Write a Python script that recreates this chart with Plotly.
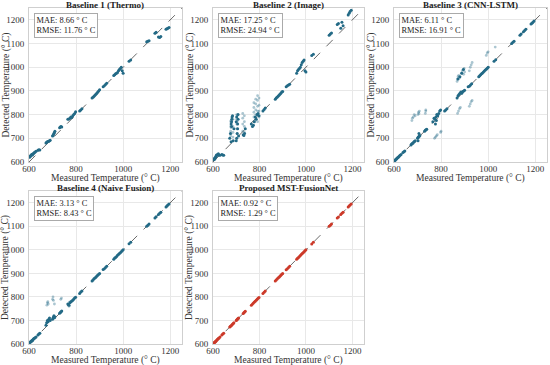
import plotly.graph_objects as go

# ---------------- data ----------------
titles = ["Baseline 1 (Thermo)", "Baseline 2 (Image)", "Baseline 3 (CNN-LSTM)",
          "Baseline 4 (Naive Fusion)", "Proposed MST-FusionNet"]
mae = [8.66, 17.25, 6.11, 3.13, 0.92]
rmse = [11.76, 24.94, 16.91, 8.43, 1.29]
x_title = "Measured Temperature (° C)"
y_title = "Detected Temperature (° C)"

measured = [603, 605, 607, 609, 611, 613, 615, 618, 620, 623, 626, 630,
            638, 642, 646,
            672, 675, 678, 681, 684, 687, 690,
            700, 702, 704, 706, 708, 710,
            730, 733, 736, 739,
            765, 770, 774, 778, 782, 786, 790, 794, 798,
            815, 820, 825,
            868, 872, 876, 880, 884, 888, 892, 896, 900,
            915, 920, 925, 930,
            960, 964, 968, 972, 976, 980, 984, 988, 992, 996, 1000,
            1025, 1032,
            1100, 1105, 1110,
            1135, 1140,
            1150, 1155, 1160,
            1182, 1186, 1190, 1195]

det_thermo = [620, 624, 626, 628, 631, 633, 630, 635, 637, 640, 642, 645,
              650, 652, 651,
              680, 683, 685, 686, 688, 690, 692,
              710, 712, 716, 720, 725, 730,
              745, 748, 750, 748,
              780, 782, 785, 790, 788, 795, 800, 805, 812,
              815, 820, 825,
              870, 873, 878, 882, 886, 890, 895, 900, 905,
              918, 922, 927, 932,
              965, 968, 972, 975, 978, 985, 990, 995, 1000, 985, 975,
              1025, 1030,
              1108, 1110, 1112,
              1143, 1148,
              1128, 1125, 1130,
              1160, 1162, 1165, 1168]

det_image = [610, 614, 612, 618, 620, 625, 630, 628, 632, 635, 630, 628,
             632, 630, 628,
             700, 720, 760, 780, 795, 690, 740,
             690, 700, 720, 760, 800, 710,
             715, 712, 720, 740,
             760, 750, 755, 770, 790, 780, 800, 805, 795,
             815, 822, 828,
             865, 870, 873, 878, 882, 886, 890, 895, 898,
             918, 922, 925, 928,
             975, 985, 990, 995, 1000, 1010, 1020, 1025, 1030, 985, 980,
             1050, 1055,
             1135, 1140, 1145,
             1180, 1185,
             1165, 1190, 1175,
             1220, 1228, 1235, 1240]
image_out_x = [676, 676, 676, 676, 678, 678, 678, 686, 686, 686, 686,
               702, 702, 702, 702, 704, 704, 704,
               728, 728, 728, 728, 735, 735, 735, 735,
               776, 776, 776, 776, 776, 784, 784, 784, 784, 784,
               792, 792, 792, 792, 792, 792, 798, 798, 798, 798]
image_out_y = [710, 730, 750, 770, 720, 745, 775, 705, 725, 750, 780,
               740, 760, 780, 800, 720, 770, 795,
               730, 760, 785, 805, 725, 750, 770, 795,
               770, 790, 810, 830, 850, 780, 800, 820, 845, 865,
               770, 795, 815, 835, 860, 880, 790, 815, 840, 870]
image_dark_x = [678, 680, 680, 682, 700, 702, 706, 708]
image_dark_y = [685, 750, 770, 790, 770, 790, 740, 780]

det_cnn = [605, 608, 610, 612, 614, 616, 618, 620, 622, 625, 628, 632,
           640, 643, 646,
           672, 676, 678, 680, 684, 686, 690,
           700, 703, 705, 708, 710, 712,
           730, 734, 736, 738,
           770, 785, 780, 790, 800, 795, 805, 815, 820,
           815, 820, 825,
           870, 880, 885, 890, 895, 890, 898, 900, 903,
           918, 920, 925, 930,
           960, 964, 968, 972, 976, 980, 984, 988, 992, 996, 1000,
           1025, 1032,
           1100, 1105, 1110,
           1135, 1140,
           1150, 1155, 1160,
           1182, 1186, 1190, 1195]
cnn_out_x = [676, 678, 682, 686, 690, 702, 704, 708, 706, 735, 735, 733,
             772, 776, 780, 784, 798, 800,
             868, 870, 872, 875, 878, 886, 890, 894, 898, 900, 896,
             920, 924, 928, 932, 870, 874, 878, 882, 920, 924, 928, 932,
             992, 996, 1000, 1030]
cnn_out_y = [775, 785, 790, 800, 795, 800, 810, 815, 805, 815, 820, 805,
             700, 705, 710, 715, 725, 730,
             940, 950, 960, 965, 955, 975, 985, 990, 995, 980, 970,
             985, 1000, 1010, 1020, 805, 815, 825, 830, 835, 845, 855, 860,
             1050, 1060, 1065, 1085]
cnn_dark_x = [872, 880, 888, 895, 780, 776, 702, 706]
cnn_dark_y = [950, 960, 975, 990, 775, 760, 690, 720]

det_naive = [606, 607, 610, 612, 612, 616, 615, 620, 622, 624, 627, 630,
             638, 643, 646,
             680, 690, 700, 695, 705, 710, 700,
             705, 710, 715, 720, 712, 715,
             731, 734, 737, 740,
             770, 765, 775, 780, 783, 786, 791, 795, 799,
             815, 821, 825,
             868, 872, 877, 880, 884, 889, 892, 896, 900,
             916, 920, 925, 930,
             960, 965, 968, 972, 977, 980, 985, 988, 992, 996, 1000,
             1026, 1032,
             1100, 1105, 1110,
             1135, 1141,
             1150, 1155, 1160,
             1182, 1186, 1190, 1195]
naive_out_x = [676, 678, 680, 682, 700, 702, 704, 708, 735, 738, 770, 772]
naive_out_y = [765, 775, 780, 770, 790, 800, 785, 770, 790, 795, 760, 778]

det_proposed = [603, 605, 607, 609, 611, 613, 615, 618, 620, 623, 626, 630,
                638, 642, 646,
                672, 675, 678, 681, 684, 687, 690,
                700, 702, 704, 706, 708, 710,
                730, 733, 736, 739,
                765, 770, 774, 778, 782, 786, 790, 794, 798,
                815, 820, 825,
                868, 872, 876, 880, 884, 888, 892, 896, 900,
                915, 920, 925, 930,
                960, 964, 968, 972, 976, 980, 984, 988, 992, 996, 1000,
                1025, 1032,
                1100, 1105, 1110,
                1135, 1140,
                1150, 1155, 1160,
                1182, 1186, 1190, 1195]

lims = [600, 1250]
x_ticks = [600, 800, 1000, 1200]
y_ticks = [600, 700, 800, 900, 1000, 1100, 1200]

# ---------------- styling ----------------
DARK = "#236a86"
LIGHT = "rgba(35,106,134,0.38)"
RED = "#cc3a2a"
FONT = "Liberation Serif"
W, H = 550, 365

col_px = [(29, 182), (213, 364), (394, 547)]
row_px = [(8, 162), (191, 344)]
col_dom = [[a / W, b / W] for a, b in col_px]
row_dom = [[1 - b / H, 1 - a / H] for a, b in row_px]
cells = [(0, 0), (0, 1), (0, 2), (1, 0), (1, 1)]

main_y = [det_thermo, det_image, det_cnn, det_naive, det_proposed]
extra_dark = [([], []), (image_dark_x, image_dark_y), (cnn_dark_x, cnn_dark_y), ([], []), ([], [])]
extra_light = [([], []), (image_out_x, image_out_y), (cnn_out_x, cnn_out_y), (naive_out_x, naive_out_y), ([], [])]

fig = go.Figure()
layout = dict(
    width=W, height=H, margin=dict(l=0, r=0, t=0, b=0, autoexpand=False),
    paper_bgcolor="white", plot_bgcolor="white", showlegend=False,
    font=dict(family=FONT, color="#333333", size=9),
)
annotations = []

for i, (r, c) in enumerate(cells):
    k = "" if i == 0 else str(i + 1)
    xa, ya = "x" + k, "y" + k
    color = RED if i == 4 else DARK
    fig.add_trace(go.Scatter(x=lims, y=lims, mode="lines", xaxis=xa, yaxis=ya,
                             line=dict(color="#444444", width=0.8, dash="dash"),
                             hoverinfo="skip"))
    lx, ly = extra_light[i]
    if lx:
        fig.add_trace(go.Scatter(x=lx, y=ly, mode="markers", xaxis=xa, yaxis=ya,
                                 marker=dict(color=LIGHT, size=2.8)))
    fig.add_trace(go.Scatter(x=measured, y=main_y[i], mode="markers", xaxis=xa, yaxis=ya,
                             marker=dict(color=color, size=3)))
    dx, dy = extra_dark[i]
    if dx:
        fig.add_trace(go.Scatter(x=dx, y=dy, mode="markers", xaxis=xa, yaxis=ya,
                                 marker=dict(color=color, size=3)))

    axis_common = dict(range=lims, showgrid=True, gridcolor="#e8e8e8", gridwidth=1,
                       zeroline=False, showline=True, linecolor="#cfcfcf", linewidth=1,
                       mirror=True, ticks="", ticklen=0, automargin=False,
                       tickfont=dict(family=FONT, size=9, color="#333333"))
    layout["xaxis" + k] = dict(axis_common, domain=col_dom[c], anchor=ya,
                               tickvals=x_ticks, ticklabelstandoff=-2)
    layout["yaxis" + k] = dict(axis_common, domain=row_dom[r], anchor=xa,
                               tickvals=y_ticks, ticklabelstandoff=2)

    x0, x1 = col_px[c]
    y0, y1 = row_px[r]
    annotations.append(dict(text="<b>" + titles[i] + "</b>", xref="paper", yref="paper",
                            x=(x0 + x1) / 2 / W, y=1 - (y0 - 3.5) / H,
                            xanchor="center", yanchor="middle",
                            showarrow=False, font=dict(family=FONT, size=9, color="#222222")))
    annotations.append(dict(text=x_title, xref="paper", yref="paper",
                            x=(x0 + x1) / 2 / W, y=1 - (y1 + 16) / H,
                            xanchor="center", yanchor="middle", showarrow=False,
                            font=dict(family=FONT, size=9.5, color="#333333")))
    annotations.append(dict(text=y_title, xref="paper", yref="paper",
                            x=(x0 - 23.5) / W, y=1 - (y0 + y1) / 2 / H, textangle=-90,
                            xanchor="center", yanchor="middle", showarrow=False,
                            font=dict(family=FONT, size=9.5, color="#333333")))
    annotations.append(dict(text=f"MAE: {mae[i]:.2f} ° C<br>RMSE: {rmse[i]:.2f} ° C",
                            xref=xa + " domain", yref=ya + " domain", x=0.035, y=0.97,
                            xanchor="left", yanchor="top", align="left", showarrow=False,
                            bgcolor="rgba(255,255,255,0.9)", bordercolor="#aaaaaa",
                            borderwidth=1, borderpad=1.5,
                            font=dict(family=FONT, size=8.4, color="#222222")))

layout["annotations"] = annotations
fig.update_layout(**layout)
fig.write_html("out.html", config={"displayModeBar": False},
               post_script="document.body.style.margin='0px';document.body.style.overflow='hidden';")
